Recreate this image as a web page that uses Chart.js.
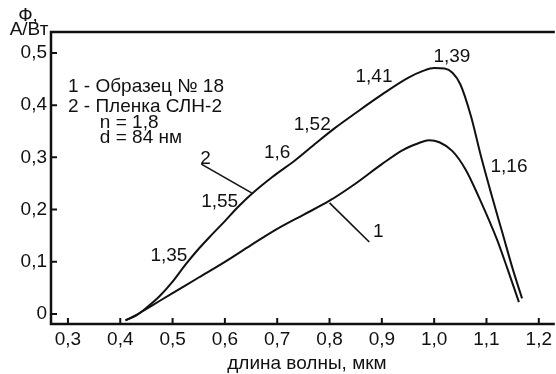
<!DOCTYPE html>
<html lang="ru">
  <head>
    <meta charset="UTF-8" />
    <title>Фоточувствительность</title>
    <script src="https://cdn.jsdelivr.net/npm/chart.js@4.4.1/dist/chart.umd.min.js"></script>
    <style>
      html, body { margin: 0; padding: 0; background: #fff; }
      #wrap { width: 556px; height: 374px; position: relative; }
    </style>
  </head>
  <body>
    <div id="wrap"><canvas id="chart"></canvas></div>

    <script>
      // curve 1 - образец № 18
      const lambda1 = [0.41, 0.43, 0.45, 0.475, 0.5, 0.55, 0.6, 0.65, 0.7, 0.75, 0.8, 0.85, 0.9, 0.94, 0.97, 0.99, 1.01, 1.035, 1.06, 1.085, 1.12, 1.14, 1.162];
      const phi1 = [-0.012, -0.002, 0.01, 0.025, 0.04, 0.07, 0.1, 0.132, 0.163, 0.19, 0.217, 0.25, 0.287, 0.314, 0.327, 0.333, 0.329, 0.312, 0.277, 0.225, 0.143, 0.087, 0.023];

      // curve 2 - пленка СЛН-2
      const lambda2 = [0.41, 0.43, 0.45, 0.475, 0.5, 0.525, 0.55, 0.575, 0.6, 0.625, 0.65, 0.69, 0.735, 0.775, 0.81, 0.85, 0.9, 0.95, 0.98, 1.0, 1.02, 1.035, 1.05, 1.07, 1.09, 1.11, 1.13, 1.15, 1.168];
      const phi2 = [-0.012, -0.003, 0.012, 0.034, 0.062, 0.095, 0.125, 0.152, 0.178, 0.205, 0.229, 0.262, 0.295, 0.328, 0.356, 0.385, 0.42, 0.452, 0.466, 0.471, 0.47, 0.462, 0.44, 0.38, 0.3, 0.227, 0.157, 0.087, 0.03];

      const xTicks = [0.3, 0.4, 0.5, 0.6, 0.7, 0.8, 0.9, 1.0, 1.1, 1.2];
      const yTicks = [0, 0.1, 0.2, 0.3, 0.4, 0.5];

      // numbers written along the curves (refractive index)
      const noteText = ['1,35', '1,55', '1,6', '1,52', '1,41', '1,39', '1,16'];
      const noteX = [0.493, 0.59, 0.70, 0.767, 0.885, 1.034, 1.143];
      const noteY = [0.111, 0.215, 0.308, 0.362, 0.454, 0.492, 0.282];

      // legend block
      const legendLines = ['1 - Образец № 18', '2 - Пленка СЛН-2', 'n = 1,8', 'd = 84 нм'];
      const legendX = [0.3, 0.3, 0.361, 0.361];
      const legendY = [0.435, 0.397, 0.366, 0.337];

      // curve numbers with leader lines
      const curveLabels = ['2', '1'];
      const curveLabelX = [0.563, 0.893];
      const curveLabelY = [0.297, 0.157];
      const leaderFrom = [[0.555, 0.287], [0.80, 0.213]];
      const leaderTo = [[0.651, 0.232], [0.876, 0.138]];

      const FONT = '"Liberation Sans", Arial, sans-serif';
      const SIZE = 19;
      const fmt = v => (v === 0 ? '0' : v.toFixed(1).replace('.', ','));

      const decor = {
        id: 'decor',
        afterDraw(chart) {
          const ctx = chart.ctx;
          const xs = chart.scales.x, ys = chart.scales.y;
          const a = chart.chartArea;
          ctx.save();
          ctx.strokeStyle = '#111';
          ctx.fillStyle = '#111';

          // frame: left, bottom, top
          ctx.lineWidth = 2.5;
          ctx.beginPath();
          ctx.moveTo(a.right, a.top);
          ctx.lineTo(a.left, a.top);
          ctx.lineTo(a.left, a.bottom);
          ctx.lineTo(a.right, a.bottom);
          ctx.stroke();

          // inward ticks
          ctx.lineWidth = 2;
          ctx.beginPath();
          xTicks.forEach(t => {
            const px = xs.getPixelForValue(t);
            ctx.moveTo(px, a.bottom);
            ctx.lineTo(px, a.bottom - 6);
          });
          yTicks.forEach(t => {
            const py = ys.getPixelForValue(t);
            ctx.moveTo(a.left, py);
            ctx.lineTo(a.left + 6, py);
          });
          ctx.stroke();

          ctx.font = SIZE + 'px ' + FONT;
          ctx.textBaseline = 'middle';

          // notes along curves
          ctx.textAlign = 'center';
          noteText.forEach((s, i) => {
            ctx.fillText(s, xs.getPixelForValue(noteX[i]), ys.getPixelForValue(noteY[i]));
          });

          // curve numbers and leaders
          curveLabels.forEach((s, i) => {
            ctx.fillText(s, xs.getPixelForValue(curveLabelX[i]), ys.getPixelForValue(curveLabelY[i]));
          });
          ctx.lineWidth = 1.6;
          ctx.beginPath();
          leaderFrom.forEach((p, i) => {
            ctx.moveTo(xs.getPixelForValue(p[0]), ys.getPixelForValue(p[1]));
            ctx.lineTo(xs.getPixelForValue(leaderTo[i][0]), ys.getPixelForValue(leaderTo[i][1]));
          });
          ctx.stroke();

          // legend block
          ctx.textAlign = 'left';
          legendLines.forEach((s, i) => {
            ctx.fillText(s, xs.getPixelForValue(legendX[i]), ys.getPixelForValue(legendY[i]));
          });

          // axis titles
          ctx.textAlign = 'center';
          ctx.fillText('Ф,', a.left - 23, a.top - 16);
          ctx.fillText('А/Вт', a.left - 22, a.top - 2);
          ctx.fillText('длина волны, мкм', (a.left + a.right) / 2 + 4, a.bottom + 40);

          ctx.restore();
        }
      };

      const ctx = document.getElementById('chart').getContext('2d');
      const myChart = new Chart(ctx, {
        type: 'line',
        data: {
          datasets: [
            {
              label: '1',
              data: lambda1.map((x, i) => ({ x: x, y: phi1[i] })),
              borderColor: '#111',
              borderWidth: 2,
              pointRadius: 0,
              fill: false,
              cubicInterpolationMode: 'monotone'
            },
            {
              label: '2',
              data: lambda2.map((x, i) => ({ x: x, y: phi2[i] })),
              borderColor: '#111',
              borderWidth: 2,
              pointRadius: 0,
              fill: false,
              cubicInterpolationMode: 'monotone'
            }
          ]
        },
        options: {
          responsive: true,
          maintainAspectRatio: false,
          animation: false,
          layout: { padding: { top: 32, right: 0, left: 0, bottom: 0 } },
          plugins: { legend: { display: false }, tooltip: { enabled: false } },
          scales: {
            x: {
              type: 'linear',
              min: 0.2676,
              max: 1.2306,
              afterBuildTicks: s => { s.ticks = xTicks.map(v => ({ value: v })); },
              afterFit: s => { s.height = 50; },
              grid: { display: false, drawTicks: false },
              border: { display: false },
              ticks: {
                color: '#111',
                font: { family: FONT, size: SIZE },
                padding: 4,
                maxRotation: 0,
                callback: v => fmt(v)
              }
            },
            y: {
              type: 'linear',
              min: -0.019,
              max: 0.54,
              afterBuildTicks: s => { s.ticks = yTicks.map(v => ({ value: v })); },
              afterFit: s => { s.width = 51; },
              grid: { display: false, drawTicks: false },
              border: { display: false },
              ticks: {
                color: '#111',
                font: { family: FONT, size: SIZE },
                padding: 4,
                callback: v => fmt(v)
              }
            }
          }
        },
        plugins: [decor]
      });
    </script>
  </body>
</html>
